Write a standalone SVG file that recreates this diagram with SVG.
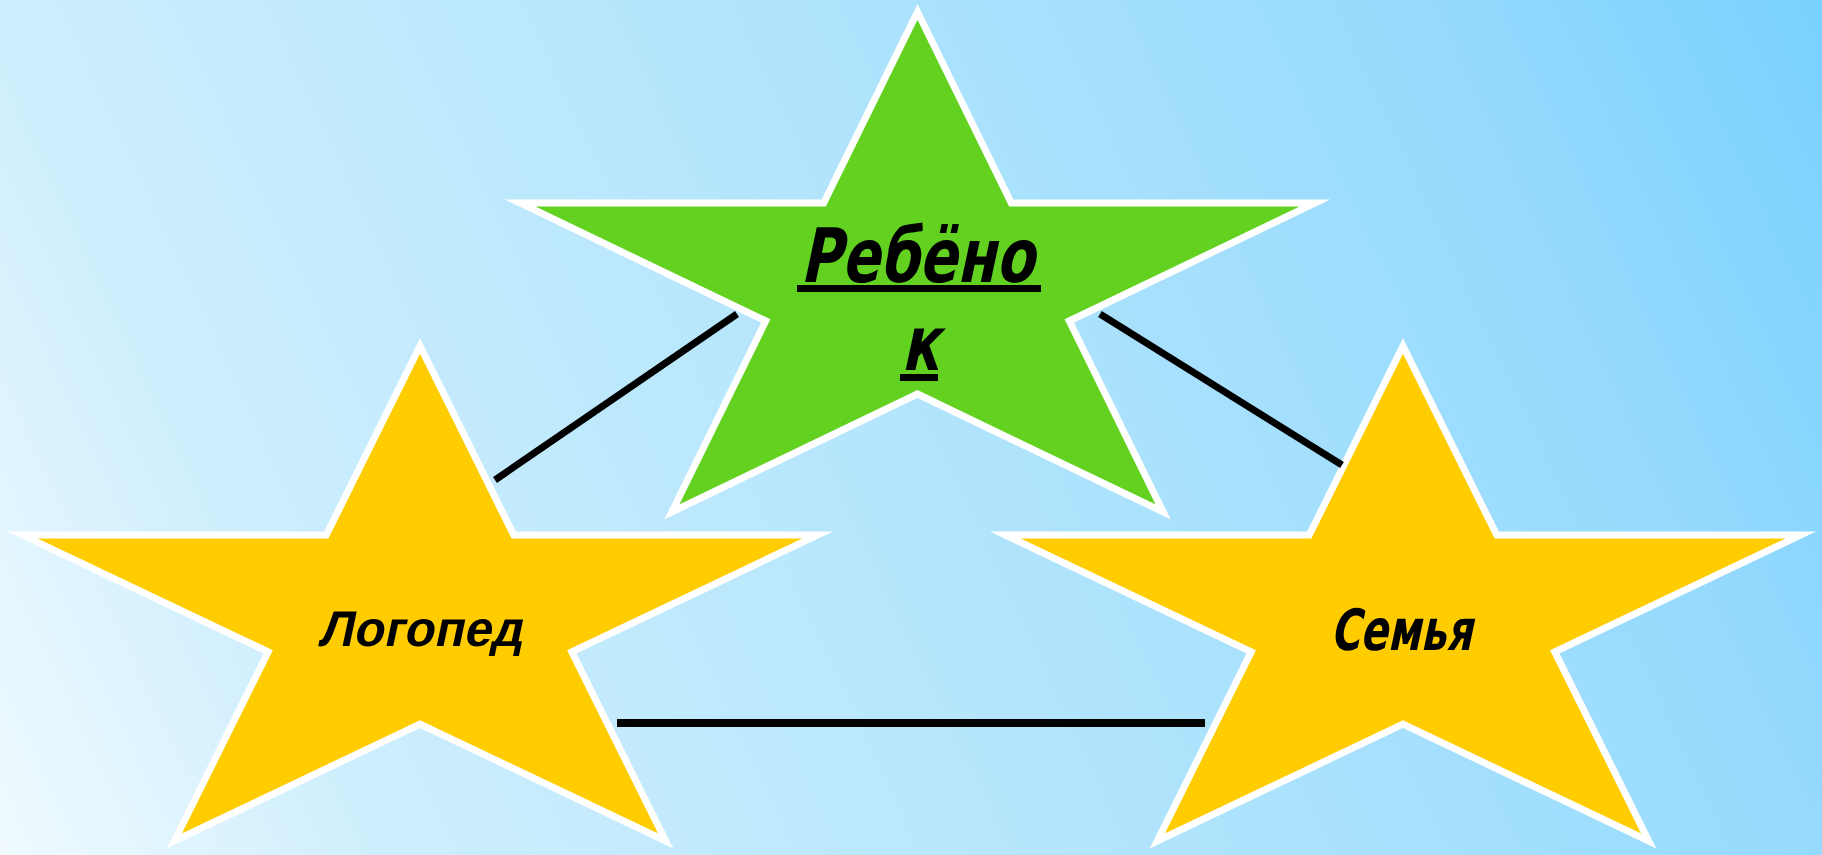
<svg xmlns="http://www.w3.org/2000/svg" width="1822" height="855" viewBox="0 0 1822 855">
  <defs>
    <linearGradient id="bg" gradientUnits="userSpaceOnUse" x1="0" y1="855" x2="1822" y2="0">
      <stop offset="0" stop-color="#f0faff"/>
      <stop offset="0.18" stop-color="#cdeefd"/>
      <stop offset="0.5" stop-color="#b3e5fc"/>
      <stop offset="0.82" stop-color="#96dafd"/>
      <stop offset="1" stop-color="#78d1fd"/>
    </linearGradient>
  </defs>
  <style>
    .star { stroke: #ffffff; stroke-width: 7; stroke-linejoin: miter; stroke-miterlimit: 10; }
    .green { fill: #62d11f; }
    .yellow { fill: #ffcc00; }
    .conn { stroke: #000000; fill: none; }
    .lbl { fill: #000000; font-weight: bold; }
    .dv { font-family: "DejaVu Sans", "Liberation Sans", sans-serif; font-stretch: condensed; }
    .ls { font-family: "Liberation Sans", Arial, sans-serif; }
    .ul { fill: #000000; }
  </style>
  <rect x="0" y="0" width="1822" height="855" fill="url(#bg)"/>

  <g id="node-child">
    <polygon class="star green" points="917.5,12 1011.3,203 1315,203 1069.3,321 1163.2,512 917.5,394 671.8,512 765.7,321 520,203 823.7,203"/>
    <text class="lbl dv" transform="translate(800,282) skewX(-12)" x="0" y="0" font-size="75" textLength="234" lengthAdjust="spacingAndGlyphs">Ребёно</text>
    <rect class="ul" x="797" y="285" width="244" height="7"/>
    <text class="lbl dv" transform="translate(901,370) skewX(-12)" x="0" y="0" font-size="76" textLength="38" lengthAdjust="spacingAndGlyphs">к</text>
    <rect class="ul" x="900" y="374" width="38" height="7"/>
  </g>

  <g id="node-logoped">
    <polygon class="star yellow" points="420,346 513.8,535.1 817.5,535.1 571.8,651.9 665.7,841 420,724.1 174.3,841 268.2,651.9 22.5,535.1 326.2,535.1"/>
    <text class="lbl ls" transform="translate(318,646) skewX(-12)" x="0" y="0" font-size="50" textLength="204" lengthAdjust="spacingAndGlyphs">Логопед</text>
  </g>

  <g id="node-family">
    <polygon class="star yellow" points="1403,346 1496.8,535.1 1800.5,535.1 1554.8,651.9 1648.7,841 1403,724.1 1157.3,841 1251.2,651.9 1005.5,535.1 1309.2,535.1"/>
    <text class="lbl dv" transform="translate(1330,650) skewX(-12)" x="0" y="0" font-size="57" textLength="142" lengthAdjust="spacingAndGlyphs">Семья</text>
  </g>

  <g id="connectors">
    <line class="conn" x1="495" y1="480" x2="737" y2="314" stroke-width="7"/>
    <line class="conn" x1="1100" y1="314" x2="1342" y2="465" stroke-width="7"/>
    <line class="conn" x1="617" y1="723" x2="1205" y2="723" stroke-width="8"/>
  </g>
</svg>
